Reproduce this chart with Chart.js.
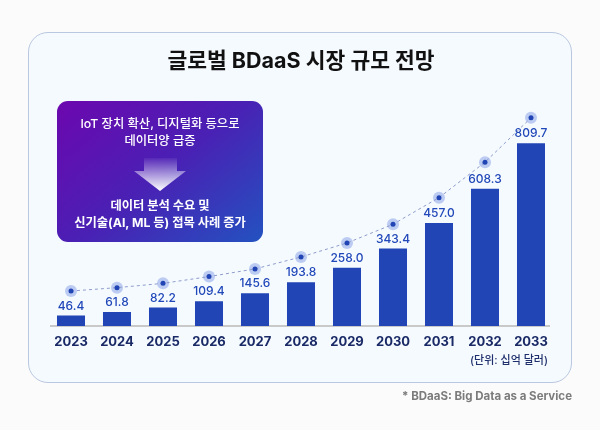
<!DOCTYPE html>
<html lang="ko">
<head>
<meta charset="utf-8">
<title>글로벌 BDaaS 시장 규모 전망</title>
<script src="https://cdn.jsdelivr.net/npm/chart.js@4"></script>
<style>
  html, body { margin: 0; padding: 0; }
  body {
    position: relative; width: 600px; height: 430px; overflow: hidden;
    background: #fbfbfc;
    font-family: Inter, "Noto Sans CJK KR", sans-serif;
  }
  .card {
    position: absolute; left: 28px; top: 32px; width: 542px; height: 349px;
    background: #f5faff; border: 1px solid #b9c7e0; border-radius: 20px;
  }
  canvas { position: absolute; left: 0; top: 0; }
  .callout {
    position: absolute; left: 57px; top: 101px; width: 206px; height: 141px;
    border-radius: 11px; color: #fff; text-align: center;
    background: linear-gradient(140deg, #6c07ae 0%, #4a20b4 50%, #2352c0 100%);
  }
  .callout div { position: absolute; left: 0; right: 0; white-space: nowrap; }
  .cause { top: 14px; font-size: 12.3px; line-height: 17px; font-weight: 500; }
  .effect { top: 97px; font-size: 12.3px; line-height: 16.5px; font-weight: 700; }
  .callout svg { position: absolute; left: 77px; top: 57px; }
  .unit {
    position: absolute; right: 52px; top: 353px;
    font-size: 11px; line-height: 14px; font-weight: 500; color: #1f2f6b;
  }
  .note {
    position: absolute; right: 28px; top: 389px;
    font-size: 11.5px; line-height: 15px; font-weight: 700; color: #7b7b7b;
  }
</style>
</head>
<body>
<div class="card"></div>
<canvas id="chartMarket" width="600" height="430"></canvas>
<div class="callout">
  <div class="cause">IoT 장치 확산, 디지털화 등으로<br>데이터양 급증</div>
  <svg width="52" height="34" viewBox="0 0 52 34">
    <defs>
      <linearGradient id="arrowFade" x1="0" y1="0" x2="0" y2="1">
        <stop offset="0" stop-color="#fff" stop-opacity="0.05"></stop>
        <stop offset="1" stop-color="#fff" stop-opacity="1"></stop>
      </linearGradient>
    </defs>
    <polygon points="10,0 43,0 43,13 52,13 26,33 0,13 10,13" fill="url(#arrowFade)"></polygon>
  </svg>
  <div class="effect">데이터 분석 수요 및<br>신기술(AI, ML 등) 접목 사례 증가</div>
</div>
<div class="unit">(단위: 십억 달러)</div>
<div class="note">* BDaaS: Big Data as a Service</div>

<script>
const years = ['2023', '2024', '2025', '2026', '2027', '2028', '2029', '2030', '2031', '2032', '2033'];
const marketSize = [46.4, 61.8, 82.2, 109.4, 145.6, 193.8, 258.0, 343.4, 457.0, 608.3, 809.7];
const trendLine = [155, 170, 189, 219, 253, 306, 368, 451, 569, 726, 923];

const FONT = 'Inter, "Noto Sans CJK KR", sans-serif';

const baseLine = {
  id: 'baseLine',
  beforeDatasetsDraw(chart) {
    const { ctx, scales: { x, y } } = chart;
    ctx.save();
    ctx.strokeStyle = '#c9c9c9';
    ctx.lineWidth = 2;
    ctx.beginPath();
    ctx.moveTo(x.getPixelForValue(0) - 21, y.getPixelForValue(0));
    ctx.lineTo(x.getPixelForValue(10) + 19, y.getPixelForValue(0));
    ctx.stroke();
    ctx.restore();
  },
};

const barLabels = {
  id: 'barLabels',
  afterDatasetsDraw(chart) {
    const { ctx } = chart;
    ctx.save();
    ctx.font = `500 12px ${FONT}`;
    ctx.fillStyle = '#2148b8';
    ctx.textAlign = 'center';
    ctx.textBaseline = 'middle';
    chart.getDatasetMeta(0).data.forEach((bar, i) => {
      ctx.fillText(marketSize[i].toFixed(1), bar.x, bar.y - 9.5);
    });
    ctx.restore();
  },
};

new Chart(document.getElementById('chartMarket'), {
  type: 'bar',
  data: {
    labels: years,
    datasets: [
      { data: marketSize, backgroundColor: '#2145b4', barPercentage: 0.609, categoryPercentage: 1, order: 3 },
      { type: 'line', data: trendLine, showLine: false, pointRadius: 6, pointBorderWidth: 0, pointBackgroundColor: '#bccbf2', order: 2 },
      { type: 'line', data: trendLine, borderColor: '#8e9cc9', borderWidth: 1, borderDash: [3, 3], tension: 0, pointRadius: 2.5, pointBorderWidth: 0, pointBackgroundColor: '#2145b4', order: 1 },
    ],
  },
  options: {
    responsive: false,
    animation: false,
    layout: { padding: { left: 48, right: 46, top: 49, bottom: 74 } },
    plugins: {
      legend: { display: false },
      tooltip: { enabled: false },
      title: {
        display: true,
        text: '글로벌 BDaaS 시장 규모 전망',
        color: '#111111',
        font: { family: FONT, size: 21.5, weight: '700', lineHeight: 1.2 },
        padding: { top: 0, bottom: 25.6 },
      },
    },
    scales: {
      x: {
        grid: { display: false, drawTicks: false },
        border: { display: false },
        ticks: { color: '#1a2a66', font: { family: FONT, size: 13, weight: '700' }, padding: 8, maxRotation: 0, autoSkip: false },
        afterFit(scale) { scale.height = 30; },
      },
      y: { display: false, min: 0, max: 1000 },
    },
  },
  plugins: [baseLine, barLabels],
});
</script>
</body>
</html>
